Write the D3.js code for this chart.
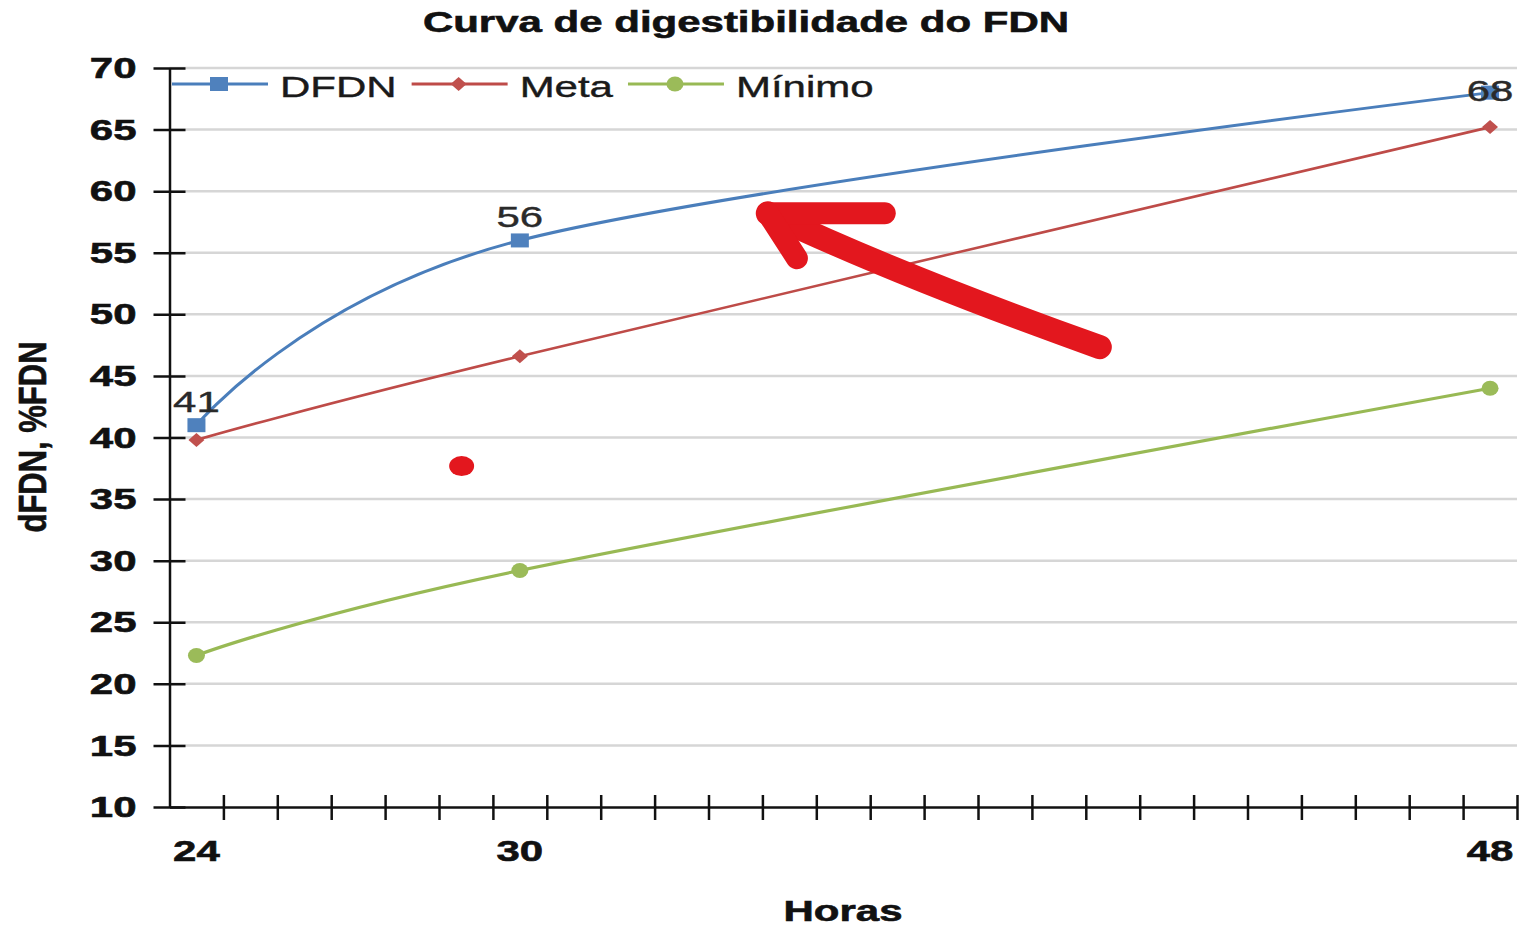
<!DOCTYPE html>
<html><head><meta charset="utf-8">
<script src="https://cdn.jsdelivr.net/npm/d3@7"></script>
<style>html,body{margin:0;padding:0;background:#fff;} svg{display:block;font-family:"Liberation Sans",Arial,sans-serif;}</style>
</head><body><svg id="chart" width="1530" height="929"></svg>
<script>
// ---- data ----
const hours = [24, 30, 48];
const xTickLabels = ["24", "30", "48"];
const yTickValues = [10, 15, 20, 25, 30, 35, 40, 45, 50, 55, 60, 65, 70];
const seriesNames = ["DFDN", "Meta", "Mínimo"];
const dfdnValues = [41, 56, 68];
const metaValues = [39.8, 46.6, 65.2];
const minimoValues = [22.3, 29.2, 44.0];
const dfdnLabels = ["41", "56", "68"];
const chartTitle = "Curva de digestibilidade do FDN";
const xTitle = "Horas";
const yTitle = "dFDN, %FDN";
// hand-drawn annotation, in data coordinates (hour, value)
const arrowShaft = [[40.76, 47.34], [37.12, 53.0], [34.6, 58.2]];
const arrowArmRight = [[34.6, 58.2], [36.77, 58.2]];
const arrowArmLower = [[34.6, 58.2], [35.14, 54.56]];
const dotMark = [28.92, 37.68];

(function () {
// ---- layout ----
const SX = 1.4; // horizontal stretch of the reference picture
const svg = d3.select("#chart");
const pL = 169.5, pR = 1517, pT = 68, pB = 807;
const x = d3.scaleLinear().domain([23.5, 48.5]).range([pL, pR]);
const y = d3.scaleLinear().domain([10, 70]).range([pB, pT]);

function stext(g, px, py, str, o) {
  o = o || {};
  const fill = o.fill || "#111";
  return g.append("text")
    .attr("transform", `translate(${px},${py}) scale(${SX},1)`)
    .attr("text-anchor", o.anchor || "middle")
    .attr("font-size", o.size || 30)
    .attr("font-weight", o.weight || "normal")
    .attr("fill", fill)
    .attr("stroke", fill).attr("stroke-width", o.sw == null ? 0.5 : o.sw)
    .text(str);
}

// gridlines
svg.append("g").selectAll("line").data(yTickValues.filter(v => v > 10)).join("line")
  .attr("x1", pL).attr("x2", pR)
  .attr("y1", d => y(d)).attr("y2", d => y(d))
  .attr("stroke", "#d6d6d6").attr("stroke-width", 2.5);

// y axis
const yAxis = svg.append("g").attr("transform", `translate(${pL},0)`)
  .call(d3.axisLeft(y).tickValues(yTickValues).tickSize(16).tickSizeOuter(0).tickFormat(d3.format("d")));
yAxis.select(".domain").attr("stroke", "#111").attr("stroke-width", 2.5);
yAxis.selectAll(".tick line").attr("x1", 16).attr("stroke", "#111").attr("stroke-width", 2.5);
yAxis.selectAll(".tick text")
  .attr("x", -33 / SX).attr("transform", `scale(${SX},1)`)
  .attr("font-size", 30).attr("font-weight", "bold").attr("fill", "#111")
  .attr("stroke", "#111").attr("stroke-width", 0.6)
  .attr("font-family", "Liberation Sans, Arial, sans-serif");

// x axis (ticks between categories)
const xTickPos = d3.range(24.5, 48.51, 1);
const xAxis = svg.append("g").attr("transform", `translate(0,${pB})`)
  .call(d3.axisBottom(x).tickValues(xTickPos).tickSize(13).tickSizeOuter(0).tickFormat(""));
xAxis.select(".domain").attr("stroke", "#111").attr("stroke-width", 2.5);
xAxis.selectAll(".tick line").attr("y1", -12).attr("stroke", "#111").attr("stroke-width", 2.5);

// x labels
const xl = svg.append("g");
hours.forEach((h, i) => stext(xl, x(h), 861, xTickLabels[i], {weight: "bold", sw: 0.6}));

// titles
stext(svg, 746, 32, chartTitle, {weight: "bold", sw: 0.6});
stext(svg, 843, 921, xTitle, {weight: "bold", sw: 0.6});
svg.append("text")
  .attr("transform", `translate(46,437) scale(1.25,1) rotate(-90)`)
  .attr("text-anchor", "middle").attr("font-size", 31).attr("font-weight", "bold").attr("fill", "#111")
  .attr("stroke", "#111").attr("stroke-width", 0.5)
  .text(yTitle);

// series
const series = [
  {name: seriesNames[0], values: dfdnValues, line: "#4A7EBB", fill: "#4F81BD", marker: "square", width: 3},
  {name: seriesNames[1], values: metaValues, line: "#BE4B48", fill: "#C0504D", marker: "diamond", width: 2.6},
  {name: seriesNames[2], values: minimoValues, line: "#98B954", fill: "#9BBB59", marker: "circle", width: 3.2}
];
const lineGen = d3.line().x(d => x(d[0])).y(d => y(d[1])).curve(d3.curveCardinal.tension(0));

function drawMarker(g, type, cx, cy, color) {
  if (type === "square") {
    g.append("rect").attr("x", cx - 9).attr("y", cy - 7).attr("width", 18).attr("height", 14).attr("fill", color);
  } else if (type === "diamond") {
    g.append("path").attr("d", `M${cx - 8},${cy} L${cx},${cy - 7} L${cx + 8},${cy} L${cx},${cy + 7} Z`).attr("fill", color);
  } else {
    g.append("ellipse").attr("cx", cx).attr("cy", cy).attr("rx", 8.5).attr("ry", 7.5).attr("fill", color);
  }
}

const sg = svg.append("g");
series.slice().reverse().forEach(s => {
  const pts = hours.map((h, i) => [h, s.values[i]]);
  sg.append("path").attr("d", lineGen(pts)).attr("fill", "none")
    .attr("stroke", s.line).attr("stroke-width", s.width);
  pts.forEach(p => drawMarker(sg, s.marker, x(p[0]), y(p[1]), s.fill));
});

// data labels for DFDN
const lg = svg.append("g");
hours.forEach((h, i) => {
  const py = y(dfdnValues[i]);
  const base = (py - 13 - 22 < pT) ? py + 8 : py - 13;
  stext(lg, x(h), base, dfdnLabels[i], {fill: "#2a2a2a", sw: 0.4});
});

// legend
const leg = svg.append("g");
let lx = 172;
const ly = 84;
series.forEach(s => {
  leg.append("line").attr("x1", lx).attr("x2", lx + 96).attr("y1", ly).attr("y2", ly)
    .attr("stroke", s.line).attr("stroke-width", 3.2);
  drawMarker(leg, s.marker, lx + 47, ly, s.fill);
  const t = stext(leg, lx + 108, ly + 13, s.name, {anchor: "start", fill: "#1a1a1a", sw: 0.4});
  const w = t.node().getComputedTextLength() * SX;
  lx = lx + 108 + w + 15;
});

// hand-drawn red annotation
const red = "#e3171e";
const ann = svg.append("g").attr("fill", "none").attr("stroke", red).attr("stroke-width", 24)
  .attr("stroke-linecap", "round").attr("stroke-linejoin", "round");
const p = d3.path();
p.moveTo(x(arrowShaft[0][0]), y(arrowShaft[0][1]));
p.quadraticCurveTo(x(arrowShaft[1][0]), y(arrowShaft[1][1]), x(arrowShaft[2][0]), y(arrowShaft[2][1]));
ann.append("path").attr("d", p.toString());
const segLine = d3.line().x(d => x(d[0])).y(d => y(d[1]));
ann.append("path").attr("d", segLine(arrowArmRight)).attr("stroke-width", 22);
ann.append("path").attr("d", segLine(arrowArmLower)).attr("stroke-width", 22);
svg.append("ellipse").attr("cx", x(dotMark[0])).attr("cy", y(dotMark[1])).attr("rx", 12.5).attr("ry", 10).attr("fill", red);
})();
</script></body></html>
